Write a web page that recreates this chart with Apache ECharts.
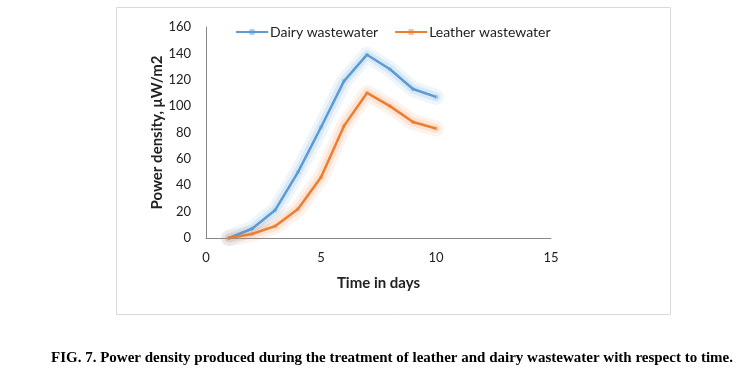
<!DOCTYPE html>
<html>
<head>
<meta charset="utf-8">
<script src="https://cdn.jsdelivr.net/npm/echarts@6/dist/echarts.min.js"></script>
<style>
html,body{margin:0;padding:0;background:#fff;}
#chart{width:749px;height:378px;}
</style>
</head>
<body>
<div id="chart"></div>
<script>
const days = [1, 2, 3, 4, 5, 6, 7, 8, 9, 10];
const dairy = [0, 7, 21, 50, 84, 119, 139, 128, 113, 107];
const leather = [0, 3, 9, 22, 46, 85, 110, 100, 88, 83];
const seriesNames = ['Dairy wastewater', 'Leather wastewater'];
const xTitle = 'Time in days';
const yTitle = 'Power density, μW/m2';
const caption = 'FIG. 7. Power density produced during the treatment of leather and dairy wastewater with respect to time.';

const chart = echarts.init(document.getElementById('chart'));
const font = 'Lato, "Open Sans", sans-serif';
function glow(name, vals, color, w) {
  return {
    name: name + ' glow', type: 'line', silent: true,
    data: days.map((d, i) => [d, vals[i]]),
    symbol: 'none',
    lineStyle: { color: color, width: w, cap: 'round', join: 'round' },
    z: 1, animation: false, legendHoverLink: false
  };
}
function mk(name, vals, color) {
  return {
    name: name, type: 'line',
    data: days.map((d, i) => [d, vals[i]]),
    symbol: 'circle', symbolSize: 4, showSymbol: true,
    lineStyle: { color: color, width: 2.5 },
    itemStyle: { color: color, opacity: 0.5 },
    emphasis: { disabled: true },
    z: 3, animation: false
  };
}
chart.setOption({
  backgroundColor: '#fff',
  animation: false,
  grid: { left: 206, right: 198, top: 27, bottom: 140 },
  legend: {
    left: 230, top: 20, itemWidth: 32, itemHeight: 8, itemGap: 16,
    textStyle: { fontFamily: font, fontSize: 14, color: '#222', padding: [0, 0, 0, -3] },
    data: seriesNames
  },
  xAxis: {
    type: 'value', min: 0, max: 15, interval: 5,
    axisLine: { lineStyle: { color: '#888', width: 1 } },
    axisTick: { show: false }, splitLine: { show: false },
    axisLabel: { fontFamily: font, fontSize: 13, color: '#222', margin: 13 },
    name: xTitle, nameLocation: 'middle', nameGap: 38,
    nameTextStyle: { fontFamily: font, fontSize: 15, fontWeight: 'bold', color: '#222' }
  },
  yAxis: {
    type: 'value', min: 0, max: 160, interval: 20,
    axisLine: { show: true, lineStyle: { color: '#888', width: 1 } },
    axisTick: { show: false }, splitLine: { show: false },
    axisLabel: { fontFamily: font, fontSize: 13, color: '#222', margin: 15 },
    name: yTitle, nameLocation: 'middle', nameGap: 40,
    nameTextStyle: { fontFamily: font, fontSize: 15, fontWeight: 'bold', color: '#222' }
  },
  graphic: [
    { type: 'rect', shape: { x: 116.5, y: 7.5, width: 554, height: 307 }, style: { fill: 'none', stroke: '#d9d9d9', lineWidth: 1 }, z: -1 },
    { type: 'text', x: 392, y: 358, style: { text: caption, fontFamily: '"Liberation Serif", "DejaVu Serif", serif', fontSize: 15, fontWeight: 'bold', fill: '#000', textAlign: 'center', textVerticalAlign: 'middle' } }
  ],
  series: [
    glow(seriesNames[0], dairy, 'rgba(91,155,213,0.10)', 16),
    glow(seriesNames[0], dairy, 'rgba(91,155,213,0.14)', 9),
    glow(seriesNames[1], leather, 'rgba(237,125,49,0.09)', 16),
    glow(seriesNames[1], leather, 'rgba(237,125,49,0.13)', 9),
    mk(seriesNames[0], dairy, '#5b9bd5'),
    mk(seriesNames[1], leather, '#ed7d31')
  ]
});
</script>
</body>
</html>
